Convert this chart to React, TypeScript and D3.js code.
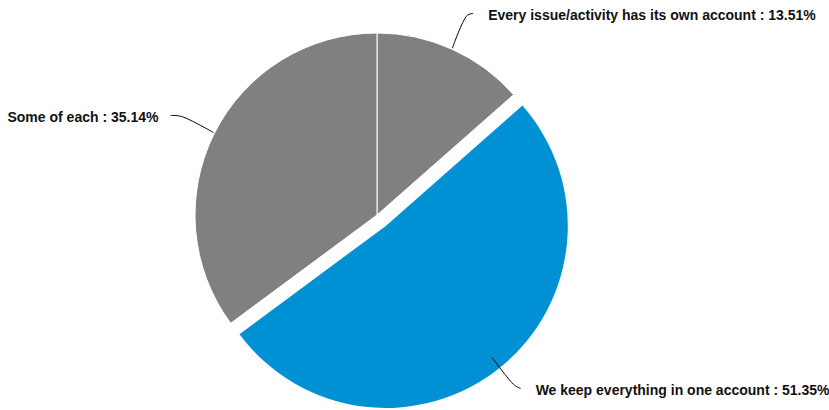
import React from "react";
import * as d3 from "d3";

const categories: string[] = [
  "Every issue/activity has its own account",
  "We keep everything in one account",
  "Some of each",
];
const values: number[] = [13.51, 51.35, 35.14];
const colors: string[] = ["#808080", "#0091D5", "#808080"];
const explode: number[] = [0, 14, 0];

const W = 829;
const H = 410;
const CX = 377;
const CY = 215;
const R = 182;

export default function App() {
  const pie = d3
    .pie<number>()
    .sort(null)
    .value((d) => d)
    .startAngle(0)
    .endAngle(2 * Math.PI);
  const arcs = pie(values);
  const arc = d3.arc<d3.PieArcDatum<number>>().innerRadius(0).outerRadius(R);
  const line = d3
    .line<[number, number]>()
    .curve(d3.curveCatmullRom.alpha(0.5));

  return (
    <svg
      width={W}
      height={H}
      style={{ position: "absolute", left: 0, top: 0, background: "#fff" }}
    >
      <g transform={`translate(${CX},${CY})`}>
        {arcs.map((a, i) => {
          const mid = (a.startAngle + a.endAngle) / 2;
          const ox = Math.sin(mid) * explode[i];
          const oy = -Math.cos(mid) * explode[i];
          return (
            <path
              key={i}
              d={arc(a) || ""}
              transform={`translate(${ox},${oy})`}
              fill={colors[i]}
              stroke="#fff"
              strokeWidth={explode[i] ? 0 : 1}
            />
          );
        })}
        {arcs.map((a, i) => {
          const mid = (a.startAngle + a.endAngle) / 2;
          const sx = Math.sin(mid);
          const sy = -Math.cos(mid);
          const p0: [number, number] = [sx * (R + 1), sy * (R + 1)];
          const p1: [number, number] = [sx * (R + 37), sy * (R + 37)];
          const right = sx >= 0;
          const p2: [number, number] = [
            p1[0] + (right ? 6 : -11),
            p1[1] + (right ? (sy < 0 ? -2 : 3) : -1),
          ];
          const tx = p2[0] + (right ? 15 : -12);
          return (
            <g key={"l" + i}>
              <path d={line([p0, p1, p2]) || ""} fill="none" stroke="#000" strokeWidth={1} />
              <text
                x={tx}
                y={p2[1] + 7}
                textAnchor={right ? "start" : "end"}
                fontFamily="'Liberation Sans', Arial, Helvetica, sans-serif"
                fontWeight="bold"
                fontSize={14}
                fill="#111"
              >
                {`${categories[i]} : ${values[i].toFixed(2)}%`}
              </text>
            </g>
          );
        })}
      </g>
    </svg>
  );
}
